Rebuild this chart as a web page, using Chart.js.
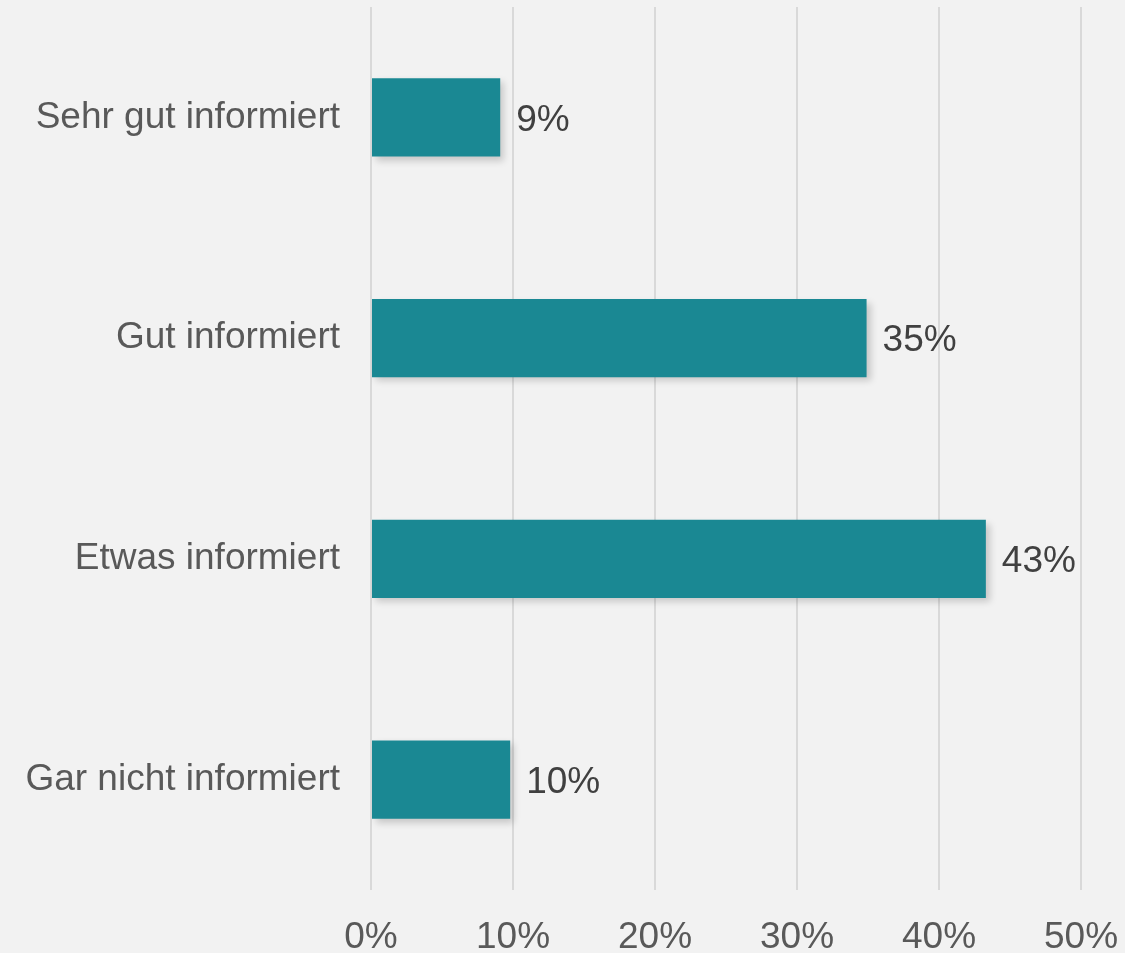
<!DOCTYPE html>
<html>
<head>
<meta charset="utf-8">
<script src="https://cdn.jsdelivr.net/npm/chart.js@4"></script>
<style>
  html, body { margin: 0; padding: 0; background: #f2f2f2; }
  #wrap { width: 1125px; height: 953px; }
</style>
</head>
<body>
<div id="wrap"><canvas id="c" width="1125" height="953"></canvas></div>
<script>
const categories = ['Sehr gut informiert', 'Gut informiert', 'Etwas informiert', 'Gar nicht informiert'];
const values = [9.1, 34.9, 43.3, 9.8];
const valueLabels = ['9%', '35%', '43%', '10%'];
const xTicks = [0, 10, 20, 30, 40, 50];

const FONT = '"Liberation Sans", Arial, sans-serif';

const barExtras = {
  id: 'barExtras',
  beforeDatasetDraw(chart) {
    const ctx = chart.ctx;
    ctx.save();
    ctx.shadowColor = 'rgba(0,0,0,0.18)';
    ctx.shadowBlur = 7;
    ctx.shadowOffsetX = 4;
    ctx.shadowOffsetY = 4;
  },
  afterDatasetDraw(chart) {
    chart.ctx.restore();
  },
  afterDatasetsDraw(chart) {
    const ctx = chart.ctx;
    const meta = chart.getDatasetMeta(0);
    ctx.save();
    ctx.font = '37px ' + FONT;
    ctx.fillStyle = '#404040';
    ctx.textAlign = 'left';
    ctx.textBaseline = 'middle';
    meta.data.forEach((bar, i) => {
      ctx.fillText(valueLabels[i], bar.x + 16, bar.y + 3);
    });
    ctx.restore();
  }
};

new Chart(document.getElementById('c'), {
  type: 'bar',
  data: {
    labels: categories,
    datasets: [{
      data: values,
      backgroundColor: '#1a8893',
      borderWidth: 0,
      barPercentage: 1,
      categoryPercentage: 0.355
    }]
  },
  options: {
    indexAxis: 'y',
    responsive: false,
    animation: false,
    layout: { padding: { left: 0, right: 44, top: 7, bottom: 0 } },
    plugins: {
      legend: { display: false },
      tooltip: { enabled: false }
    },
    scales: {
      x: {
        min: 0,
        max: 50,
        afterBuildTicks(scale) { scale.ticks = xTicks.map(v => ({ value: v })); },
        afterFit(scale) {
          scale.height = 63;
          scale.paddingLeft = 0; scale.paddingRight = 0;
        },
        border: { display: false },
        grid: { color: '#d9d9d9', lineWidth: 2, drawTicks: false },
        ticks: {
          padding: 26,
          color: '#595959',
          font: { family: FONT, size: 37 },
          callback: v => v + '%',
          maxRotation: 0
        }
      },
      y: {
        afterFit(scale) {
          scale.width = 371;
          scale.paddingTop = 0; scale.paddingBottom = 0;
        },
        border: { display: false },
        grid: { display: false, drawTicks: false },
        ticks: {
          padding: 31,
          color: '#595959',
          font: { family: FONT, size: 37 }
        }
      }
    }
  },
  plugins: [barExtras]
});
</script>
</body>
</html>
